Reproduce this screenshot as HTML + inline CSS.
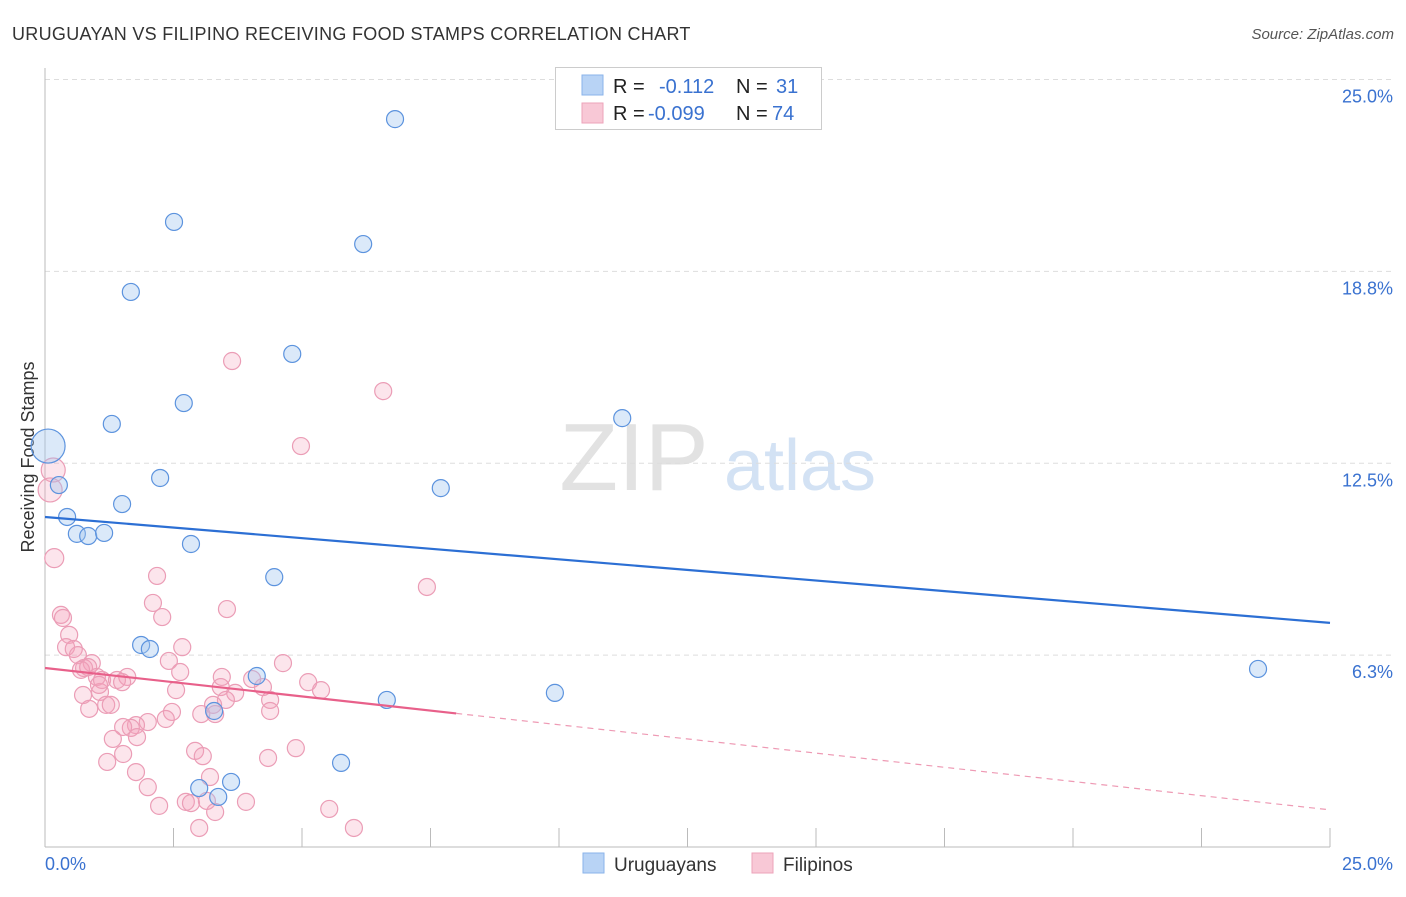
<!DOCTYPE html>
<html><head><meta charset="utf-8"><style>
body{margin:0;background:#fff;font-family:"Liberation Sans",sans-serif;}
svg text{font-family:"Liberation Sans",sans-serif;}
</style></head><body>
<svg id="chart" width="1406" height="892">
<text x="12" y="40" font-size="18" fill="#333" letter-spacing="0.3">URUGUAYAN VS FILIPINO RECEIVING FOOD STAMPS CORRELATION CHART</text>
<text x="1394" y="39" font-size="15" fill="#555" font-style="italic" text-anchor="end">Source: ZipAtlas.com</text>
<text x="634" y="490" font-size="96" fill="#e2e2e2" font-family="Liberation Serif" text-anchor="middle">ZIP</text>
<text x="800" y="490" font-size="72" fill="#d3e2f4" text-anchor="middle">atlas</text>
<text transform="translate(34,457) rotate(-90)" font-size="18" fill="#333" text-anchor="middle">Receiving Food Stamps</text>
<g id="grid"></g><g id="axes"></g><g id="pts"></g><g id="lines"></g>
<g>
<rect x="555.5" y="67.5" width="266" height="62" fill="#fff" stroke="#ccc"/>
<rect x="582" y="75" width="21" height="20" fill="#b8d3f5" stroke="#8ab3ea"/>
<rect x="582" y="103" width="21" height="20" fill="#f8c8d6" stroke="#eda3ba"/>
<text x="613" y="93" font-size="20" fill="#222">R = </text><text x="659" y="93" font-size="20" fill="#3a72d0">-0.112</text>
<text x="736" y="93" font-size="20" fill="#222">N = </text><text x="776" y="93" font-size="20" fill="#3a72d0">31</text>
<text x="613" y="120" font-size="20" fill="#222">R = </text><text x="648" y="120" font-size="20" fill="#3a72d0">-0.099</text>
<text x="736" y="120" font-size="20" fill="#222">N = </text><text x="772" y="120" font-size="20" fill="#3a72d0">74</text>
</g>
<g>
<rect x="583" y="853" width="21" height="20" fill="#b8d3f5" stroke="#8ab3ea"/>
<text x="614" y="871" font-size="19" fill="#333">Uruguayans</text>
<rect x="752" y="853" width="21" height="20" fill="#f8c8d6" stroke="#eda3ba"/>
<text x="783" y="871" font-size="19" fill="#333">Filipinos</text>
</g>
</svg>
<script>
const yTicks=[25,18.75,12.5,6.25];
const yTickLabels=["25.0%","18.8%","12.5%","6.3%"];
const xTickLabels=["0.0%","25.0%"];
const uruX=[6.81,2.51,6.19,1.67,4.81,2.70,1.30,11.23,2.24,0.27,7.70,1.50,0.43,0.62,0.84,1.15,2.84,4.46,1.87,2.04,4.12,3.29,6.65,9.92,23.60,3.00,3.37,3.62,5.76,0.06];
const uruY=[23.71,20.36,19.64,18.08,16.06,14.46,13.78,13.97,12.02,11.79,11.69,11.17,10.75,10.20,10.13,10.23,9.87,8.79,6.58,6.45,5.57,4.43,4.79,5.02,5.80,1.92,1.63,2.12,2.74,13.06];
const filX=[3.64,6.58,4.98,0.16,0.10,0.18,7.43,2.18,2.10,2.28,3.54,0.31,0.35,0.47,0.41,0.56,0.64,0.91,0.76,0.70,0.84,1.01,1.07,1.11,1.05,1.40,1.60,1.50,2.67,2.41,2.63,2.55,3.44,3.42,3.70,4.24,4.03,4.63,5.12,5.37,3.52,3.27,3.31,3.04,4.38,4.38,0.74,0.86,1.19,1.28,2.47,2.35,2.00,1.77,1.67,1.52,1.79,1.32,1.52,1.21,1.77,2.00,2.22,2.92,3.07,3.21,2.74,2.84,3.15,3.31,3.00,3.91,4.34,4.88,5.53,6.01];
const filY=[15.83,14.85,13.06,12.28,11.63,9.41,8.47,8.83,7.95,7.49,7.75,7.56,7.46,6.91,6.51,6.45,6.25,5.99,5.83,5.77,5.86,5.54,5.05,5.44,5.28,5.44,5.54,5.37,6.51,6.06,5.70,5.11,5.54,5.21,5.02,5.21,5.47,5.99,5.37,5.11,4.79,4.63,4.33,4.33,4.79,4.43,4.95,4.50,4.63,4.63,4.40,4.17,4.07,3.97,3.88,3.91,3.58,3.52,3.03,2.77,2.44,1.95,1.34,3.13,2.96,2.28,1.47,1.43,1.50,1.14,0.62,1.47,2.90,3.22,1.24,0.62];
const uruTrend=[10.75,7.30];
const filTrend=[5.83,1.21];
const filSolidEnd=8.0;
const X=v=>45+v*51.4, Y=v=>847-v*30.7;
const NS="http://www.w3.org/2000/svg";
function mk(tag,attrs,parent){const e=document.createElementNS(NS,tag);for(const k in attrs)e.setAttribute(k,attrs[k]);document.getElementById(parent).appendChild(e);return e;}
yTicks.forEach((t,i)=>{
 const l=mk('line',{x1:45,x2:1395,y1:Y(t),y2:Y(t),stroke:'#ddd','stroke-dasharray':'5,4'},'grid');
 
 
 const tx=mk('text',{x:1393,y:Y(t)+23,'font-size':18,fill:'#3a72d0','text-anchor':'end'},'grid');
 tx.textContent=yTickLabels[i];
 
 
});
const ax=mk('line',{x1:45,x2:45,y1:68,y2:847,stroke:'#bbb'},'axes');


const bx=mk('line',{x1:45,x2:1330,y1:847,y2:847,stroke:'#bbb'},'axes');


for(let i=1;i<=10;i++){const t=mk('line',{x1:X(i*2.5),x2:X(i*2.5),y1:828,y2:847,stroke:'#bbb'},'axes');
 
 }
[[0,'start',45],[25,'end',1393]].forEach((d,i)=>{const t=mk('text',{x:d[2],y:870,'font-size':18,fill:'#3a72d0','text-anchor':d[1]},'axes');t.textContent=xTickLabels[i];
 
 });
filX.forEach((x,i)=>{const r=(i==3||i==4)?12:(i==5?9.5:8.5);
 const c=mk('circle',{cx:X(x),cy:Y(filY[i]),r:r,fill:'rgba(244,160,186,0.28)',stroke:'#eb9db6','stroke-width':1.2},'pts');
 
 });
uruX.forEach((x,i)=>{const r=i==uruX.length-1?17:8.5;
 const c=mk('circle',{cx:X(x),cy:Y(uruY[i]),r:r,fill:'rgba(160,196,240,0.38)',stroke:'#5c93de','stroke-width':1.2},'pts');
 
 });
const ul=mk('line',{x1:X(0),y1:Y(uruTrend[0]),x2:X(25),y2:Y(uruTrend[1]),stroke:'#2c6fd4','stroke-width':2.2},'lines');


const fy=v=>filTrend[0]+(filTrend[1]-filTrend[0])*v/25;
const fl=mk('line',{x1:X(0),y1:Y(fy(0)),x2:X(filSolidEnd),y2:Y(fy(filSolidEnd)),stroke:'#e8608a','stroke-width':2.2},'lines');


const fd=mk('line',{x1:X(filSolidEnd),y1:Y(fy(filSolidEnd)),x2:X(25),y2:Y(fy(25)),stroke:'#ee9ab4','stroke-width':1.2,'stroke-dasharray':'6,5'},'lines');


</script>
</body></html>
